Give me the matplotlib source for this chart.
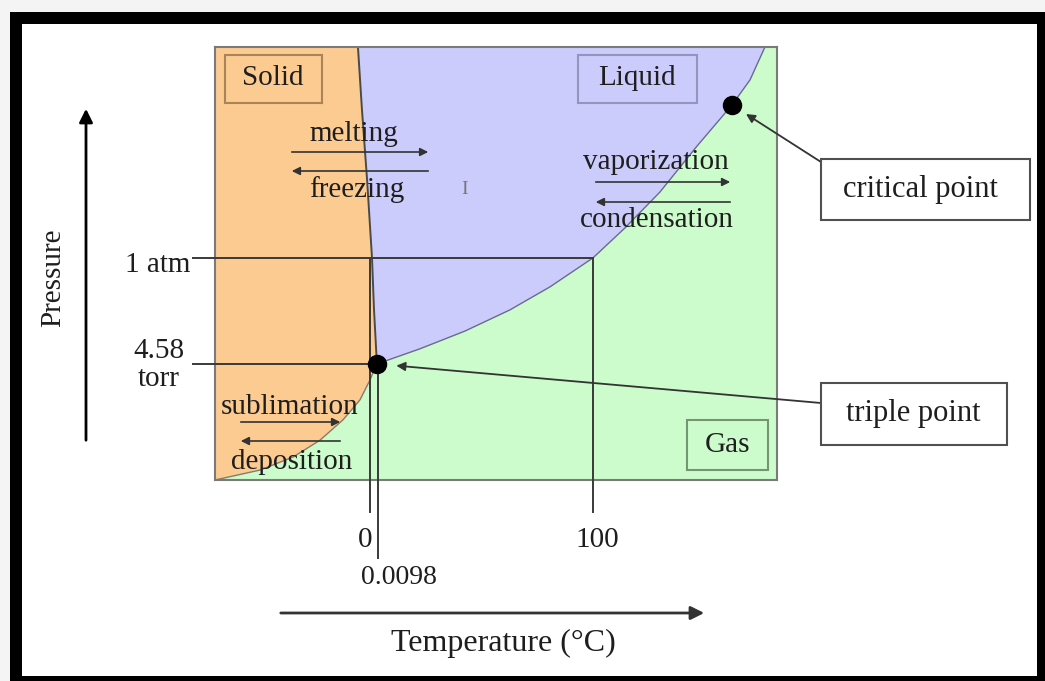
import matplotlib
matplotlib.use('Agg')
import matplotlib.pyplot as plt
from matplotlib.patches import Rectangle, FancyArrowPatch

W, H = 1045, 681
plt.rcParams['font.family'] = ['Liberation Serif', 'DejaVu Serif']

# ---- data (schematic: temperature in drawn °C units, pressure on an arbitrary 0-100 scale)
fusion_T = [3.1, 1.8, 0.9, -1.3, -3.6, -5.4]
fusion_P = [26.8, 39.3, 51.3, 69.3, 85.5, 100.0]
sublim_T = [-69.5, -49.3, -34.5, -22.4, -12.1, -4.5, 0.0, 3.1]
sublim_P = [0.0, 2.3, 5.3, 9.2, 13.9, 18.5, 23.1, 26.8]
vapor_T = [3.1, 22.4, 42.6, 62.8, 80.7, 100.0, 114.3, 130.0, 146.6, 162.3, 170.4, 177.1]
vapor_P = [26.8, 30.3, 34.4, 39.3, 44.6, 51.3, 58.2, 66.5, 77.1, 86.6, 92.4, 100.0]
triple_point = (3.1, 26.8)
critical_point = (162.3, 86.6)
temp_marks = [0, 3.6, 100]
temp_labels = ['0', '0.0098', '100']
atm_P = 51.3
torr_P = 26.8
pressure_labels = ['1 atm', '4.58\ntorr']
phase_names = ['Solid', 'Liquid', 'Gas']
process_pairs = [('melting', 'freezing'), ('vaporization', 'condensation'),
                 ('sublimation', 'deposition')]
point_names = ['critical point', 'triple point']

T_MIN, T_MAX = -69.5, 182.5
P_MIN, P_MAX = 0.0, 100.0

C_SOLID = '#FCCB91'
C_LIQUID = '#CCCCFC'
C_GAS = '#CCFCCC'
TXT = '#1e1e1e'


def fp(x, y):
    """pixel position -> figure fraction (layout helper)"""
    return (x / W, 1 - y / H)


fig = plt.figure(figsize=(W / 100, H / 100), dpi=100)
fig.patch.set_facecolor('white')

# outer black frame
for (x0, y0, x1, y1) in [(10, 12, 22, 681), (10, 12, 1045, 24), (1037, 12, 1045, 681), (10, 676, 1045, 681)]:
    fig.add_artist(Rectangle(fp(x0, y1), (x1 - x0) / W, (y1 - y0) / H,
                             transform=fig.transFigure, facecolor='black', edgecolor='none'))
fig.add_artist(Rectangle((0, 1 - 12 / H), 1, 12 / H, transform=fig.transFigure,
                         facecolor='#f4f4f4', edgecolor='none', zorder=-1))
fig.add_artist(Rectangle((0, 0), 10 / W, 1, transform=fig.transFigure,
                         facecolor='#f4f4f4', edgecolor='none', zorder=-1))

ax = fig.add_axes([215 / W, 1 - 480 / H, (777 - 215) / W, (480 - 47) / H])
ax.set_xlim(T_MIN, T_MAX)
ax.set_ylim(P_MIN, P_MAX)
ax.set_facecolor(C_GAS)
ax.set_xticks([])
ax.set_yticks([])
for s in ax.spines.values():
    s.set_color('#7a7a7a')
    s.set_linewidth(1.5)

# liquid region
ax.fill(fusion_T + vapor_T[::-1], fusion_P + vapor_P[::-1], color=C_LIQUID, lw=0)
# solid region
ax.fill(sublim_T + fusion_T + [T_MIN], sublim_P + fusion_P + [P_MAX], color=C_SOLID, lw=0)

ax.plot(fusion_T, fusion_P, color='#4a4a4a', lw=1.4)
ax.plot(sublim_T, sublim_P, color='#8a7a6a', lw=1.0)
ax.plot(vapor_T, vapor_P, color='#6a6a90', lw=1.0)

# reference lines
ref = dict(color='#3a3a3a', lw=1.4, clip_on=False, zorder=3)
ax.plot([-79.4, temp_marks[2]], [atm_P, atm_P], **ref)
ax.plot([-79.4, triple_point[0]], [torr_P, torr_P], **ref)
ax.plot([temp_marks[0]] * 2, [atm_P, -7.4], **ref)
ax.plot([temp_marks[1]] * 2, [torr_P, -18.0], **ref)
ax.plot([temp_marks[2]] * 2, [atm_P, -7.4], **ref)

# special points
ax.plot(*triple_point, 'o', color='black', ms=13, zorder=5, clip_on=False)
ax.plot(*critical_point, 'o', color='black', ms=13, zorder=5, clip_on=False)

FS = 21
# temperature labels
ax.text(temp_marks[0] - 2.2, -13.9, temp_labels[0], ha='center', va='center', fontsize=FS, color=TXT)
ax.text(temp_marks[1] + 9.5, -22.6, temp_labels[1], ha='center', va='center', fontsize=FS - 1, color=TXT)
ax.text(temp_marks[2] + 1.8, -13.9, temp_labels[2], ha='center', va='center', fontsize=FS, color=TXT)

# pressure labels
fig.text(*fp(158, 265), pressure_labels[0], ha='center', va='center', fontsize=FS, color=TXT)
fig.text(*fp(159, 365), pressure_labels[1], ha='center', va='center', fontsize=FS, color=TXT,
         linespacing=1.1)

# axis arrows
fig.add_artist(FancyArrowPatch(fp(86, 443), fp(86, 106), transform=fig.transFigure,
               arrowstyle='-|>', mutation_scale=20, color='black', lw=2))
fig.add_artist(FancyArrowPatch(fp(278, 613), fp(707, 613), transform=fig.transFigure,
               arrowstyle='-|>', mutation_scale=20, color='#333333', lw=2))
fig.text(*fp(53, 278), 'Pressure', rotation=90, ha='center', va='center', fontsize=FS, color=TXT)
fig.text(*fp(503, 643), 'Temperature (°C)', ha='center', va='center', fontsize=23, color=TXT)


def box(x0, y0, x1, y1, ec, fc='none', lw=1.5):
    fig.add_artist(Rectangle(fp(x0, y1), (x1 - x0) / W, (y1 - y0) / H, transform=fig.transFigure,
                             facecolor=fc, edgecolor=ec, lw=lw, zorder=4))


# phase boxes
box(225, 55, 322, 103, '#a88458')
fig.text(*fp(273, 78), phase_names[0], ha='center', va='center', fontsize=FS, color=TXT, zorder=5)
box(578, 55, 697, 103, '#9494bc')
fig.text(*fp(637, 78), phase_names[1], ha='center', va='center', fontsize=FS, color=TXT, zorder=5)
box(687, 420, 768, 470, '#749474')
fig.text(*fp(727, 445), phase_names[2], ha='center', va='center', fontsize=FS, color=TXT, zorder=5)

# point label boxes
box(821, 159, 1030, 220, '#505050', fc='white')
fig.text(*fp(920, 190), point_names[0], ha='center', va='center', fontsize=22, color=TXT, zorder=5)
box(821, 383, 1007, 445, '#505050', fc='white')
fig.text(*fp(913, 413), point_names[1], ha='center', va='center', fontsize=22, color=TXT, zorder=5)

ap = dict(arrowstyle='-|>', color='#333333', lw=1.3, mutation_scale=13, shrinkA=0, shrinkB=0)
ax.annotate('', xy=critical_point, xycoords='data', xytext=fp(821, 162), textcoords='figure fraction',
            arrowprops=dict(ap, shrinkB=12))
ax.annotate('', xy=triple_point, xycoords='data', xytext=fp(821, 403), textcoords='figure fraction',
            arrowprops=dict(ap, shrinkB=14))

# process arrows
proc = [((354, 134), (289, 431, 152, 171), (357, 190)),
        ((656, 162), (593, 733, 182, 202), (657, 220)),
        ((290, 407), (238, 343, 422, 441), (292, 462))]
for (names, (top, (xa, xb, ya, yb), bot)) in zip(process_pairs, proc):
    fig.text(*fp(*top), names[0], ha='center', va='center', fontsize=FS, color=TXT, zorder=5)
    fig.text(*fp(*bot), names[1], ha='center', va='center', fontsize=FS, color=TXT, zorder=5)
    for (s, e) in [((xa, ya), (xb, ya)), ((xb, yb), (xa, yb))]:
        fig.add_artist(FancyArrowPatch(fp(*s), fp(*e), transform=fig.transFigure,
                       arrowstyle='-|>', mutation_scale=12, color='#333333', lw=1.2, zorder=5))

# text cursor glyph
fig.text(*fp(465, 190), 'I', ha='center', va='center', fontsize=14, color='#777777')

fig.savefig('out.png', dpi=100)
